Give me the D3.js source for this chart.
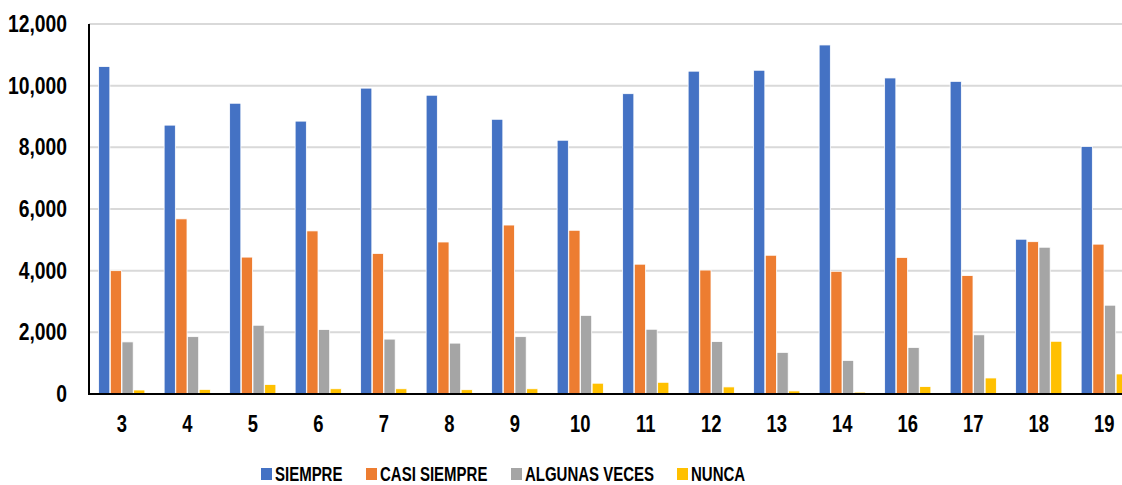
<!DOCTYPE html>
<html>
<head>
<meta charset="utf-8">
<script src="https://cdn.jsdelivr.net/npm/d3@7"></script>
<style>
  body { margin: 0; background: #fff; }
  text { font-family: "Liberation Sans", Arial, sans-serif; font-weight: bold; fill: #000; }
</style>
</head>
<body>
<script>
var svg_width  = 1122;
var svg_height = 485;

// categories and series
var categories = ["3", "4", "5", "6", "7", "8", "9", "10", "11", "12", "13", "14", "16", "17", "18", "19"];
var seriesNames = ["SIEMPRE", "CASI SIEMPRE", "ALGUNAS VECES", "NUNCA"];
var seriesColors = ["#4472c4", "#ed7d31", "#a5a5a5", "#ffc000"];

var siempre      = [10620, 8720, 9430, 8850, 9920, 9690, 8910, 8230, 9740, 10470, 10500, 11320, 10250, 10140, 5020, 8030];
var casiSiempre  = [4000, 5680, 4440, 5290, 4560, 4930, 5480, 5310, 4210, 4020, 4500, 3980, 4430, 3840, 4940, 4860];
var algunasVeces = [1690, 1860, 2230, 2090, 1780, 1650, 1860, 2550, 2100, 1700, 1350, 1090, 1510, 1920, 4760, 2880];
var nunca        = [130, 150, 310, 170, 170, 140, 170, 350, 380, 230, 100, 60, 240, 520, 1710, 650];

var yTicks = [0, 2000, 4000, 6000, 8000, 10000, 12000];

var seriesValues = [siempre, casiSiempre, algunasVeces, nunca];

var svg = d3.select('body').append('svg')
            .attr('width', svg_width)
            .attr('height', svg_height);

var plotLeft = 89, plotTop = 24, plotBottom = 394;
// the plot runs past the right edge of the window, as in the picture
var plotRight = 1137;

var x0 = d3.scaleBand()
           .domain(categories)
           .range([plotLeft, plotRight])
           .paddingInner(0.28)
           .paddingOuter(0.14);

var x1 = d3.scaleBand()
           .domain(seriesNames)
           .range([0, x0.bandwidth()])
           .padding(0.04);

var y = d3.scaleLinear()
          .domain([0, 12000])
          .range([plotBottom, plotTop]);

// narrow bold text (no Arial Narrow here, so squeeze Liberation Sans)
function narrowText(sel, x, yy, str, size, sx, anchor) {
    return sel.append("text")
              .attr("transform", "translate(" + x + "," + yy + ") scale(" + sx + ",1)")
              .attr("text-anchor", anchor)
              .style("font-size", size + "px")
              .text(str);
}

// gridlines
svg.append("g")
   .selectAll("line")
   .data(yTicks.slice(1))
   .enter().append("line")
   .attr("x1", plotLeft)
   .attr("x2", svg_width)
   .attr("y1", d => y(d))
   .attr("y2", d => y(d))
   .attr("stroke", "#d9d9d9")
   .attr("stroke-width", 2);

// y axis labels
var fmt = d3.format(",");
var yg = svg.append("g");
yTicks.forEach(function(t) {
    narrowText(yg, 67, y(t) + 8, fmt(t), 23, 0.84, "end");
});

// bars
var groups = svg.append("g")
    .selectAll("g")
    .data(categories)
    .enter().append("g")
    .attr("transform", d => "translate(" + x0(d) + ",0)");

groups.selectAll("rect")
    .data((d, i) => seriesNames.map((s, j) => ({series: s, idx: j, value: seriesValues[j][i]})))
    .enter().append("rect")
    .attr("x", d => x1(d.series))
    .attr("y", d => y(d.value))
    .attr("width", x1.bandwidth())
    .attr("height", d => plotBottom - y(d.value))
    .attr("fill", d => seriesColors[d.idx])
    .attr("stroke", "#fff")
    .attr("stroke-width", 0.8);

// x axis labels
var xg = svg.append("g");
categories.forEach(function(c) {
    narrowText(xg, x0(c) + x0.bandwidth() / 2, 432, c, 23, 0.8, "middle");
});

// axis lines
svg.append("line")
   .attr("x1", plotLeft).attr("x2", svg_width)
   .attr("y1", plotBottom).attr("y2", plotBottom)
   .attr("stroke", "#000").attr("stroke-width", 2);
svg.append("line")
   .attr("x1", plotLeft).attr("x2", plotLeft)
   .attr("y1", plotTop).attr("y2", plotBottom + 1)
   .attr("stroke", "#000").attr("stroke-width", 2);

// legend
var legendX = [261, 366, 511, 677];
var lg = svg.append("g");
seriesNames.forEach(function(s, i) {
    lg.append("rect")
      .attr("x", legendX[i])
      .attr("y", 468)
      .attr("width", 11)
      .attr("height", 12)
      .attr("fill", seriesColors[i]);
    narrowText(lg, legendX[i] + 14, 481, s, 20, 0.75, "start");
});
</script>
</body>
</html>
